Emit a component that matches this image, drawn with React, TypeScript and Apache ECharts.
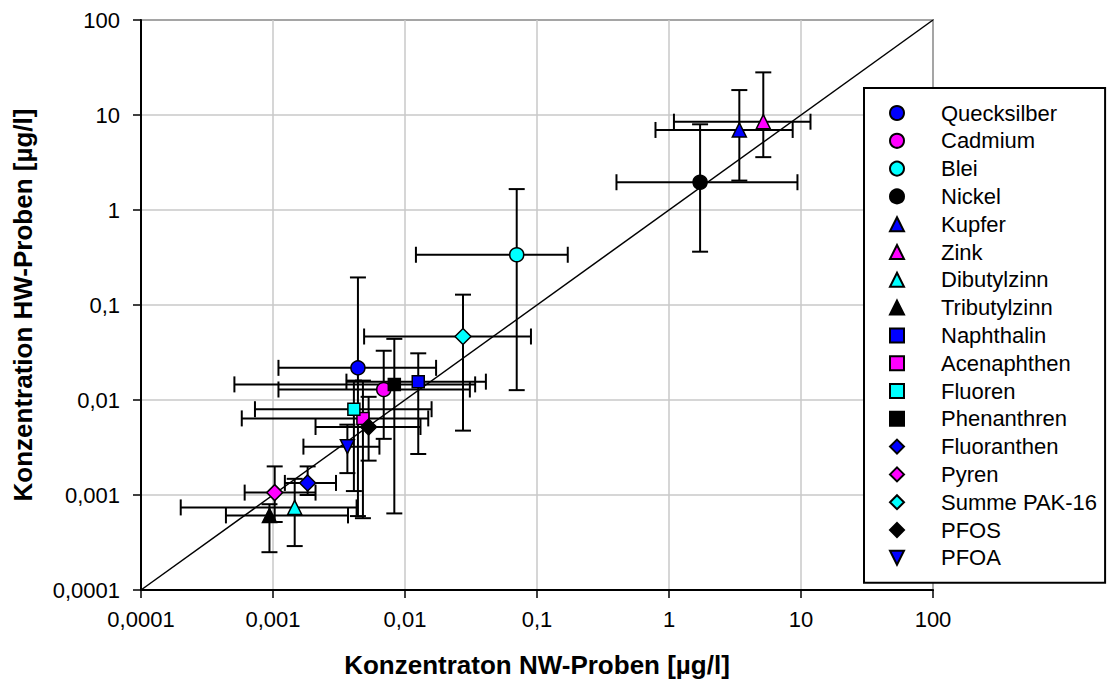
import React, { useEffect, useRef } from "react";
import * as echarts from "echarts";

const seriesNames = [
  "Quecksilber", "Cadmium", "Blei", "Nickel", "Kupfer", "Zink", "Dibutylzinn", "Tributylzinn",
  "Naphthalin", "Acenaphthen", "Fluoren", "Phenanthren", "Fluoranthen", "Pyren", "Summe PAK-16", "PFOS", "PFOA",
];
const seriesColors = [
  "#0000FF", "#FF00FF", "#00FFFF", "#000000", "#0000FF", "#FF00FF", "#00FFFF", "#000000",
  "#0000FF", "#FF00FF", "#00FFFF", "#000000", "#0000FF", "#FF00FF", "#00FFFF", "#000000", "#0000FF",
];
const seriesSymbols = [
  "circle", "circle", "circle", "circle", "triangle", "triangle", "triangle", "triangle",
  "rect", "rect", "rect", "rect", "diamond", "diamond", "diamond", "diamond", "path://M0,0 L10,0 L5,10 Z",
];
// NW-Proben (x) values
const xValues = [0.0044, 0.0069, 0.0702, 1.72, 3.41, 5.18, 0.00146, 0.00094, 0.0126, 0.0048, 0.0041, 0.0083, 0.00183, 0.00103, 0.0275, 0.0053, 0.00366];
// HW-Proben (y) values
const yValues = [0.0218, 0.0129, 0.338, 1.96, 6.96, 8.5, 0.00074, 0.00061, 0.0156, 0.0064, 0.008, 0.0146, 0.00134, 0.00106, 0.0466, 0.0052, 0.00323];
// x error bar ends
const xLow = [0.0011, 0.0011, 0.0121, 0.40, 0.79, 1.09, 0.0002, 0.00044, 0.0036, 0.00058, 0.00073, 0.00051, 0.00123, 0.00061, 0.0049, 0.0021, 0.0017];
const xHigh = [0.0172, 0.031, 0.171, 9.4, 8.65, 11.8, 0.0043, 0.0037, 0.041, 0.015, 0.0159, 0.034, 0.003, 0.0021, 0.09, 0.0131, 0.0064];
// y error bar ends
const yLow = [0.0006, 0.0039, 0.0127, 0.364, 2.04, 3.6, 0.00029, 0.00025, 0.0027, 0.00057, 0.0011, 0.00064, 0.001, 0.00052, 0.00476, 0.0023, 0.0017];
const yHigh = [0.195, 0.033, 1.66, 7.98, 18.3, 28.1, 0.00148, 0.0008, 0.031, 0.016, 0.016, 0.044, 0.002, 0.002, 0.1285, 0.0108, 0.0055];

const tickLabels = ["0,0001", "0,001", "0,01", "0,1", "1", "10", "100"];
const diagonal = [[0.0001, 0.0001], [100, 100]];

const symbolSizes: Record<string, number> = { circle: 14, triangle: 14, rect: 12, diamond: 16 };

const FONT = "'Liberation Sans', Arial, sans-serif";

function fmt(v: number) {
  const i = Math.round(Math.log10(v)) + 4;
  return tickLabels[i] ?? "";
}

export default function App() {
  const ref = useRef<HTMLDivElement>(null);
  useEffect(() => {
    if (!ref.current) return;
    const chart = echarts.init(ref.current, undefined, { renderer: "svg" });

    const series: any[] = [
      {
        type: "line",
        name: "diag",
        data: diagonal,
        showSymbol: false,
        symbol: "none",
        lineStyle: { color: "#000", width: 1.5 },
        silent: true,
        z: 2,
      },
    ];
    seriesNames.forEach((name, i) => {
      series.push({
        type: "custom",
        name: "err-" + name,
        z: 3,
        data: [[xValues[i], yValues[i], xLow[i], xHigh[i], yLow[i], yHigh[i]]],
        encode: { x: [0, 2, 3], y: [1, 4, 5] },
        renderItem: (params: any, api: any) => {
          const c = api.coord([api.value(0), api.value(1)]);
          const xl = api.coord([api.value(2), api.value(1)]);
          const xh = api.coord([api.value(3), api.value(1)]);
          const yl = api.coord([api.value(0), api.value(4)]);
          const yh = api.coord([api.value(0), api.value(5)]);
          const cap = 8;
          const st = { stroke: "#000", lineWidth: 2 };
          const ln = (x1: number, y1: number, x2: number, y2: number) => ({
            type: "line",
            shape: { x1, y1, x2, y2 },
            style: st,
          });
          return {
            type: "group",
            children: [
              ln(xl[0], c[1], xh[0], c[1]),
              ln(xl[0], c[1] - cap, xl[0], c[1] + cap),
              ln(xh[0], c[1] - cap, xh[0], c[1] + cap),
              ln(c[0], yl[1], c[0], yh[1]),
              ln(c[0] - cap, yl[1], c[0] + cap, yl[1]),
              ln(c[0] - cap, yh[1], c[0] + cap, yh[1]),
            ],
          };
        },
      });
      const sym = seriesSymbols[i];
      series.push({
        type: "scatter",
        name,
        z: 3,
        symbol: sym,
        symbolSize: symbolSizes[sym] ?? 14,
        data: [[xValues[i], yValues[i]]],
        itemStyle: { color: seriesColors[i], borderColor: "#000", borderWidth: 1.5, opacity: 1 },
      });
    });

    chart.setOption({
      animation: false,
      backgroundColor: "#fff",
      textStyle: { fontFamily: FONT },
      grid: {
        left: 141,
        right: 176,
        top: 20,
        bottom: 92,
        show: true,
        borderColor: "#000",
        borderWidth: 1.5,
      },
      legend: {
        orient: "vertical",
        left: 864,
        top: 88,
        data: seriesNames,
        itemWidth: 14,
        itemHeight: 14,
        itemGap: 5.8,
        padding: [14, 8, 14, 25],
        borderColor: "#000",
        borderWidth: 2,
        backgroundColor: "#fff",
        selectedMode: false,
        textStyle: {
          fontFamily: FONT,
          fontSize: 22,
          lineHeight: 22,
          color: "#000",
          padding: [0, 0, 0, 32],
        },
      },
      xAxis: {
        type: "log",
        logBase: 10,
        min: 0.0001,
        max: 100,
        name: "Konzentraton NW-Proben [µg/l]",
        nameLocation: "middle",
        nameGap: 62,
        nameTextStyle: { fontFamily: FONT, fontSize: 26, fontWeight: "bold", color: "#000" },
        axisLine: { show: true, onZero: false, lineStyle: { color: "#000", width: 2 } },
        axisTick: { show: true, length: 8, inside: false, lineStyle: { color: "#000", width: 1.5 } },
        minorTick: { show: false },
        axisLabel: { formatter: fmt, fontFamily: FONT, fontSize: 22, color: "#000", margin: 18 },
        splitLine: { show: true, lineStyle: { color: "#c8c8c8", width: 1.5 } },
      },
      yAxis: {
        type: "log",
        logBase: 10,
        min: 0.0001,
        max: 100,
        name: "Konzentration HW-Proben [µg/l]",
        nameLocation: "middle",
        nameGap: 105,
        nameTextStyle: { fontFamily: FONT, fontSize: 26, fontWeight: "bold", color: "#000" },
        axisLine: { show: true, onZero: false, lineStyle: { color: "#000", width: 2 } },
        axisTick: { show: true, length: 8, inside: false, lineStyle: { color: "#000", width: 1.5 } },
        minorTick: { show: false },
        axisLabel: { formatter: fmt, fontFamily: FONT, fontSize: 22, color: "#000", margin: 21 },
        splitLine: { show: true, lineStyle: { color: "#c8c8c8", width: 1.5 } },
      },
      series,
    });

    return () => chart.dispose();
  }, []);

  return (
    <div
      ref={ref}
      style={{ position: "fixed", left: 0, top: 0, width: 1109, height: 683, background: "#fff" }}
    />
  );
}
